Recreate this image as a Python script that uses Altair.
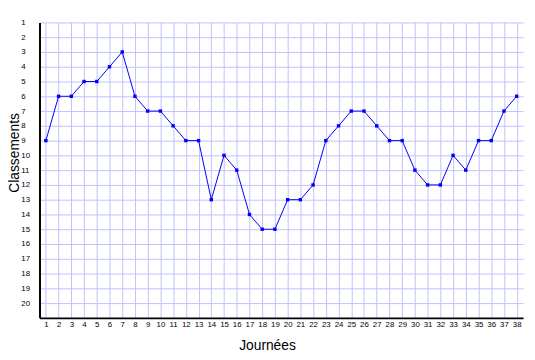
import altair as alt
import pandas as pd

journees = list(range(1, 39))
classements = [9, 6, 6, 5, 5, 4, 3, 6, 7, 7, 8, 9, 9, 13, 10, 11, 14, 15, 15, 13,
               13, 12, 9, 8, 7, 7, 8, 9, 9, 11, 12, 12, 10, 11, 9, 9, 7, 6]

df = pd.DataFrame({"Journées": journees, "Classements": classements})

FONT = "Liberation Sans"

line = alt.Chart(df).mark_line(
    color="#0000ff", strokeWidth=1,
    point=alt.OverlayMarkDef(shape="square", size=12, filled=True, color="#0000ff")
).encode(
    x=alt.X("Journées:Q",
            scale=alt.Scale(domain=[0.5, 38.5], nice=False, zero=False),
            axis=alt.Axis(values=journees, grid=True, gridColor="#c0c0ff", gridWidth=1,
                          ticks=False, labelPadding=3, labelFontSize=8, labelFont=FONT,
                          labelColor="black", labelBaseline="top",
                          domainColor="black", domainWidth=2,
                          title="Journées", titleFont=FONT, titleFontSize=14,
                          titleFontWeight="normal", titleColor="black",
                          titleBaseline="alphabetic", titleX=231, titleY=32,
                          titleAnchor="middle", labelFlush=False, labelOverlap=False)),
    y=alt.Y("Classements:Q",
            scale=alt.Scale(domain=[1, 21], reverse=True, nice=False, zero=False),
            axis=alt.Axis(values=list(range(1, 21)), grid=True, gridColor="#c0c0ff", gridWidth=1,
                          ticks=False, labelPadding=19, labelAlign="left", labelBaseline="middle",
                          labelFontSize=8, labelFont=FONT, labelColor="black",
                          domainColor="black", domainWidth=2,
                          title="Classements", titleFont=FONT, titleFontSize=14,
                          titleFontWeight="normal", titleColor="black",
                          titleX=-21, titleY=132, titleAngle=-90, titleBaseline="alphabetic",
                          labelFlush=False, labelOverlap=False)),
).properties(
    width=491, height=300,
    autosize=alt.AutoSizeParams(type="none"),
    padding={"left": 32, "top": 12, "right": 4, "bottom": 32},
).configure_view(stroke=None)

line.save("out.html", embed_options={"renderer": "svg", "actions": False})
